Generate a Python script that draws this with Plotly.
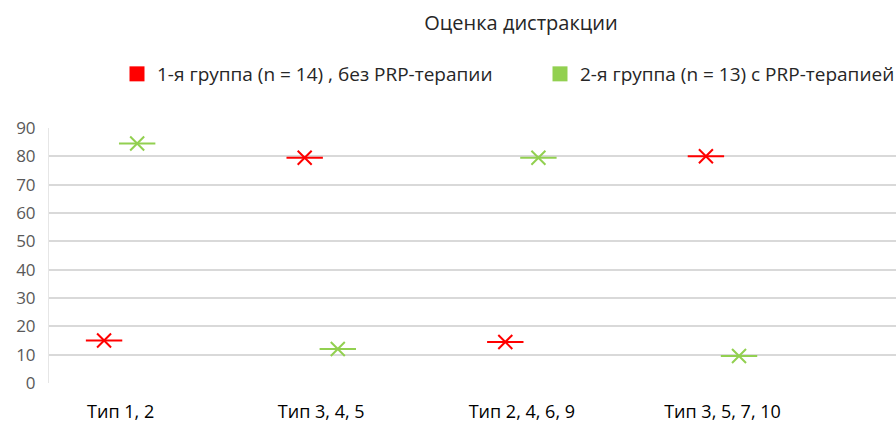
import plotly.graph_objects as go

categories = ["Тип 1, 2", "Тип 3, 4, 5", "Тип 2, 4, 6, 9", "Тип 3, 5, 7, 10"]
group1 = [15, 79.5, 14.5, 80]
group2 = [84.5, 12, 79.5, 9.5]
name1 = "1-я группа (n = 14) , без PRP-терапии"
name2 = "2-я группа (n = 13) с PRP-терапией"
y_ticks = [0, 10, 20, 30, 40, 50, 60, 70, 80, 90]

RED = "#FF0000"
GREEN = "#92D050"
FONT = "Open Sans"

fig = go.Figure()
series = [(group1, RED, name1, "a", "legend"), (group2, GREEN, name2, "b", "legend2")]
for vals, color, name, grp, leg in series:
    # horizontal bar of the marker
    fig.add_trace(go.Scatter(x=categories, y=vals, mode="markers", showlegend=False,
                             offsetgroup=grp, hoverinfo="skip",
                             marker=dict(symbol="line-ew-open", size=26, color=color,
                                         line=dict(color=color, width=2))))
    # cross of the marker
    fig.add_trace(go.Scatter(x=categories, y=vals, mode="markers", showlegend=False,
                             offsetgroup=grp, name=name,
                             marker=dict(symbol="x-thin-open", size=14, color=color,
                                         line=dict(color=color, width=2))))
    # legend entry
    fig.add_trace(go.Scatter(x=[None], y=[None], mode="markers", name=name,
                             offsetgroup=grp, legend=leg,
                             marker=dict(symbol="square", size=15, color=color)))

legend_style = dict(orientation="h", xref="container", xanchor="left",
                    y=1 - 74 / 423, yref="container", yanchor="middle",
                    font=dict(family=FONT, size=19, color="#262626"),
                    itemwidth=30, bgcolor="rgba(0,0,0,0)")

fig.update_layout(
    width=896, height=423,
    margin=dict(l=49, r=0, t=128, b=40, autoexpand=False),
    paper_bgcolor="white", plot_bgcolor="white",
    scattermode="group", scattergap=0.67,
    title=dict(text="Оценка дистракции", x=521 / 896, xref="container", xanchor="center",
               y=1 - 23 / 423, yref="container", yanchor="middle",
               font=dict(family=FONT, size=20, color="#262626")),
    legend=dict(x=117 / 896, **legend_style),
    legend2=dict(x=540 / 896, **legend_style),
    font=dict(family=FONT),
)
fig.update_xaxes(type="category", categoryorder="array", categoryarray=categories,
                 range=[-0.357, 3.865], showgrid=False, zeroline=False, showline=False,
                 automargin=False,
                 ticks="outside", ticklen=12, tickcolor="rgba(0,0,0,0)",
                 tickfont=dict(family=FONT, size=18, color="#000000"))
fig.update_yaxes(range=[0, 90], tickvals=y_ticks, showgrid=True,
                 gridcolor="#D9D9D9", gridwidth=1.5, zeroline=False,
                 showline=True, linecolor="#E6E6E6", linewidth=1,
                 automargin=False,
                 ticks="outside", ticklen=9, tickcolor="rgba(0,0,0,0)",
                 tickfont=dict(family=FONT, size=17, color="#595959"))
fig.write_html("out.html", config={"displayModeBar": False},
               post_script="document.body.style.margin='0';document.body.style.padding='0';")
